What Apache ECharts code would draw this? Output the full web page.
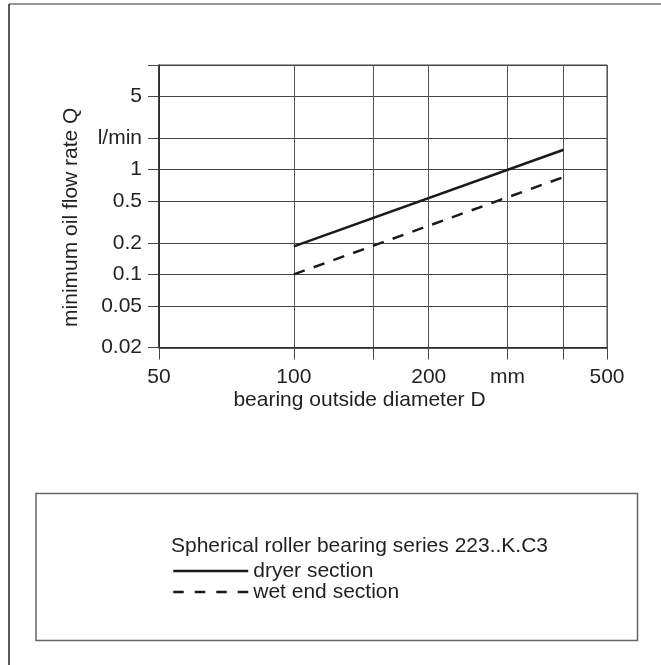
<!DOCTYPE html>
<html>
<head>
<meta charset="utf-8">
<script src="https://cdn.jsdelivr.net/npm/echarts@6/dist/echarts.min.js"></script>
<style>
html,body{margin:0;padding:0;background:#fff;}
#chart{width:661px;height:665px;}
</style>
</head>
<body>
<div id="chart"></div>
<script>
// ---- data ----
const diameters = [100, 400];           // bearing outside diameter D, mm
const dryerFlow = [0.185, 1.55];        // l/min, dryer section
const wetEndFlow = [0.1, 0.85];         // l/min, wet end section
const xTickValues = [50, 100, 150, 200, 300, 400, 500];
const xLabelValues = [50, 100, 200, 300, 500];
const xLabelText = {50: '50', 100: '100', 200: '200', 300: 'mm', 500: '500'};
const yTickValues = [0.02, 0.05, 0.1, 0.2, 0.5, 1, 2, 5, 10];
const yLabelValues = [0.02, 0.05, 0.1, 0.2, 0.5, 1, 2, 5];
const yLabelText = {0.02: '0.02', 0.05: '0.05', 0.1: '0.1', 0.2: '0.2', 0.5: '0.5', 1: '1', 2: 'l/min', 5: '5'};
const seriesNames = ['dryer section', 'wet end section'];
const legendTitle = 'Spherical roller bearing series 223..K.C3';
const xName = 'bearing outside diameter D';
const yName = 'minimum oil flow rate Q';

const FONT = '"Liberation Sans", Arial, Helvetica, sans-serif';
const TXT = '#231f20';
const FS = 21;

const chart = echarts.init(document.getElementById('chart'), null, {renderer: 'canvas'});

function pairs(xs, ys) { return xs.map((x, i) => [x, ys[i]]); }

const option = {
  backgroundColor: '#fff',
  animation: false,
  textStyle: {fontFamily: FONT},
  grid: {
    left: 159, top: 65, right: 54, bottom: 317.5,
    show: true, borderColor: '#444', borderWidth: 1, backgroundColor: 'transparent',
    containLabel: false
  },
  title: {
    text: legendTitle,
    left: 171, top: 536, padding: 0,
    textStyle: {fontFamily: FONT, fontSize: FS, fontWeight: 'normal', color: TXT}
  },
  legend: {
    orient: 'vertical',
    left: 172, top: 560.5, padding: 0,
    itemWidth: 75, itemHeight: 14, itemGap: 0, itemTextGap: 6,
    itemStyle: {opacity: 0},
    textStyle: {fontFamily: FONT, fontSize: FS, color: TXT, lineHeight: 21},
    selectedMode: false,
    data: [
      {name: seriesNames[0], lineStyle: {width: 2.5, type: 'solid'}},
      {name: seriesNames[1], lineStyle: {width: 2.5, type: [10.5, 11]}}
    ]
  },
  xAxis: {
    type: 'log', logBase: 10, min: 50, max: 500,
    name: xName, nameLocation: 'middle', nameGap: 42,
    nameTextStyle: {fontFamily: FONT, fontSize: FS, color: TXT, padding: [0, 47, 0, 0]},
    axisLine: {show: true, lineStyle: {color: '#222', width: 1.5}},
    axisTick: {show: true, inside: false, length: 12, customValues: xTickValues, lineStyle: {color: '#444', width: 1}},
    axisLabel: {
      show: true, margin: 19, customValues: xLabelValues,
      fontFamily: FONT, fontSize: FS, color: TXT,
      formatter: v => xLabelText[Math.round(v)] !== undefined ? xLabelText[Math.round(v)] : ''
    },
    splitLine: {show: true, lineStyle: {color: '#555', width: 1}},
    minorTick: {show: false}, minorSplitLine: {show: false}
  },
  yAxis: {
    type: 'log', logBase: 10, min: 0.02, max: 10,
    name: yName, nameLocation: 'middle', nameGap: 77, nameRotate: 90,
    nameTextStyle: {fontFamily: FONT, fontSize: FS, color: TXT, padding: [0, 22, 0, 0]},
    axisLine: {show: true, lineStyle: {color: '#222', width: 1.5}},
    axisTick: {show: true, inside: false, length: 11, customValues: yTickValues, lineStyle: {color: '#444', width: 1}},
    axisLabel: {
      show: true, margin: 17, customValues: yLabelValues,
      fontFamily: FONT, fontSize: FS, color: TXT,
      formatter: v => {
        const k = Object.keys(yLabelText).find(key => Math.abs(Number(key) - v) < 1e-6 * Number(key) + 1e-9);
        return k !== undefined ? yLabelText[k] : '';
      }
    },
    splitLine: {show: true, lineStyle: {color: '#444', width: 1}},
    minorTick: {show: false}, minorSplitLine: {show: false}
  },
  graphic: [
    {type: 'line', shape: {x1: 9, y1: 4, x2: 661, y2: 4}, style: {stroke: '#777', lineWidth: 1.5}, silent: true},
    {type: 'line', shape: {x1: 9, y1: 4, x2: 9, y2: 665}, style: {stroke: '#222', lineWidth: 1.5}, silent: true},
    {type: 'rect', shape: {x: 36, y: 493.5, width: 601.5, height: 147}, style: {fill: 'none', stroke: '#666', lineWidth: 1.5}, silent: true}
  ],
  series: [
    {
      name: seriesNames[0], type: 'line', data: pairs(diameters, dryerFlow),
      symbol: 'none', color: '#1a1a1a',
      lineStyle: {color: '#1a1a1a', width: 2.5, type: 'solid'}
    },
    {
      name: seriesNames[1], type: 'line', data: pairs(diameters, wetEndFlow),
      symbol: 'none', color: '#1a1a1a',
      lineStyle: {color: '#1a1a1a', width: 2.5, type: [11.5, 9.5]}
    }
  ]
};
chart.setOption(option);
</script>
</body>
</html>
